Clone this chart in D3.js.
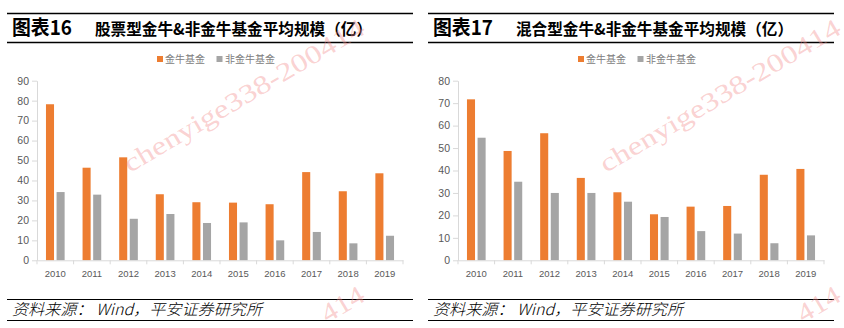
<!DOCTYPE html>
<html><head><meta charset="utf-8">
<script src="https://cdn.jsdelivr.net/npm/d3@7/dist/d3.min.js"></script>
<style>
html,body{margin:0;padding:0;background:#fff;}
svg{display:block;}
</style></head>
<body>
<svg id="chart" width="844" height="328"></svg>
<script>
const years = ['2010','2011','2012','2013','2014','2015','2016','2017','2018','2019'];
const seriesNames = ['金牛基金','非金牛基金'];
const stockGold    = [78.2, 46.4, 51.6, 33.1, 29.1, 28.9, 28.1, 44.2, 34.6, 43.6];
const stockNonGold = [34.2, 32.9, 20.8, 23.2, 18.7, 19.0, 10.0, 14.2, 8.5, 12.3];
const mixedGold    = [71.7, 48.7, 56.6, 36.7, 30.3, 20.5, 23.9, 24.2, 38.1, 40.7];
const mixedNonGold = [54.6, 35.0, 30.0, 30.0, 26.1, 19.3, 13.0, 11.9, 7.6, 11.1];
const stockTicks = [0,10,20,30,40,50,60,70,80,90];
const mixedTicks = [0,10,20,30,40,50,60,70,80];
const figLabels = ['图表16','图表17'];
const figTitles = ['股票型金牛&非金牛基金平均规模（亿）','混合型金牛&非金牛基金平均规模（亿）'];
const sourceText = '资料来源：  Wind，平安证券研究所';
const watermark = 'chenyige338-200414';
const watermarkTail = '414';

const colors = ['#ED7D31','#A5A5A5'];
const svg = d3.select('#chart');

const panels = [
  {ox:0,   label:figLabels[0], title:figTitles[0], series:[stockGold, stockNonGold], ticks:stockTicks},
  {ox:421, label:figLabels[1], title:figTitles[1], series:[mixedGold, mixedNonGold], ticks:mixedTicks}
];

const cjk = '"Noto Sans CJK SC", "Noto Sans", sans-serif';

panels.forEach(p => {
  const g = svg.append('g').attr('transform', `translate(${p.ox},0)`);

  // header rules
  g.append('line').attr('x1',7).attr('x2',413).attr('y1',13.5).attr('y2',13.5)
    .attr('stroke','#000').attr('stroke-width',1.5);
  g.append('line').attr('x1',7).attr('x2',413).attr('y1',42.5).attr('y2',42.5)
    .attr('stroke','#000').attr('stroke-width',1.5);
  g.append('text').attr('x',12).attr('y',35).text(p.label)
    .attr('font-family',cjk).attr('font-weight','bold').attr('font-size',20)
    .attr('textLength',60).attr('lengthAdjust','spacingAndGlyphs').attr('fill','#000');
  g.append('text').attr('x',95).attr('y',35).text(p.title)
    .attr('font-family',cjk).attr('font-weight','bold').attr('font-size',16)
    .attr('textLength',277).attr('lengthAdjust','spacingAndGlyphs').attr('fill','#000');

  // legend
  const legX = [157, 216.5];
  const legTX = [165, 225];
  seriesNames.forEach((n,i) => {
    g.append('rect').attr('x',legX[i]).attr('y',56).attr('width',6).attr('height',6).attr('fill',colors[i]);
    g.append('text').attr('x',legTX[i]).attr('y',63).text(n)
      .attr('font-family',cjk).attr('font-size',10).attr('fill','#808080');
  });

  // scales
  const x0 = d3.scaleBand().domain(years).range([37, 403]).paddingInner(0).paddingOuter(0);
  const bw = x0.bandwidth();
  const x1 = d3.scaleBand().domain([0,1]).range([bw*0.245, bw*0.755]).paddingInner(0.24);
  const y = d3.scaleLinear().domain([0, d3.max(p.ticks)]).range([260.3, 80.7]);

  // y axis
  const ya = g.append('g').attr('transform','translate(37,0)')
    .call(d3.axisLeft(y).tickValues(p.ticks).tickSize(5).tickSizeOuter(0).tickPadding(3));
  ya.select('.domain').attr('stroke','#D9D9D9');
  ya.selectAll('.tick line').attr('stroke','#D9D9D9');
  ya.selectAll('.tick text').attr('fill','#595959').attr('font-size',10.5)
    .attr('font-family','"Liberation Sans", Arial, sans-serif');

  // bars
  p.series.forEach((vals, si) => {
    g.append('g').selectAll('rect').data(vals).join('rect')
      .attr('x',(d,i) => x0(years[i]) + x1(si))
      .attr('width', x1.bandwidth())
      .attr('y', d => y(d))
      .attr('height', d => y(0) - y(d))
      .attr('fill', colors[si]);
  });

  // x axis
  const xa = g.append('g').attr('transform',`translate(0,${y(0)})`)
    .call(d3.axisBottom(x0).tickSize(0).tickPadding(10));
  xa.select('.domain').attr('stroke','#D9D9D9');
  xa.selectAll('.tick text').attr('fill','#595959').attr('font-size',9.5)
    .attr('font-family','"Liberation Sans", Arial, sans-serif');
  const bounds = years.map(d => x0(d)).concat([x0.range()[1]]);
  g.append('g').selectAll('line').data(bounds).join('line')
    .attr('x1',d=>d).attr('x2',d=>d).attr('y1',y(0)).attr('y2',y(0)+4)
    .attr('stroke','#D9D9D9');

  // source
  g.append('line').attr('x1',7).attr('x2',413).attr('y1',299.5).attr('y2',299.5)
    .attr('stroke','#000').attr('stroke-width',1.2);
  g.append('line').attr('x1',7).attr('x2',413).attr('y1',320.5).attr('y2',320.5)
    .attr('stroke','#000').attr('stroke-width',1.2);
  g.append('text').attr('x',12).attr('y',315).text(sourceText)
    .attr('font-family',cjk).attr('font-style','italic').attr('font-size',15.5)
    .attr('font-weight',300)
    .attr('textLength',250).attr('lengthAdjust','spacingAndGlyphs').attr('fill','#000');
});

// watermarks (full diagonal + visible tail of the repeated one near the bottom)
const step = 275 / watermark.length;
const ang = -30.6 * Math.PI / 180;
[[130,173],[606,173]].forEach(([wx,wy]) => {
  svg.append('text').attr('x',0).attr('y',0)
    .attr('transform',`translate(${wx},${wy}) rotate(-30.6)`)
    .text(watermark)
    .attr('font-family','"Liberation Serif", "DejaVu Serif", serif')
    .attr('font-size',26).attr('textLength',275).attr('lengthAdjust','spacingAndGlyphs')
    .attr('fill','#F28C8C').attr('fill-opacity',0.4);
  const k = watermark.length - watermarkTail.length;
  const tx = wx + k*step*Math.cos(ang), ty = wy + 267 + k*step*Math.sin(ang);
  svg.append('text').attr('x',0).attr('y',0)
    .attr('transform',`translate(${tx},${ty}) rotate(-30.6)`)
    .text(watermarkTail)
    .attr('font-family','"Liberation Serif", "DejaVu Serif", serif')
    .attr('font-size',26).attr('textLength',step*watermarkTail.length).attr('lengthAdjust','spacingAndGlyphs')
    .attr('fill','#F28C8C').attr('fill-opacity',0.4);
});
</script>
</body></html>
